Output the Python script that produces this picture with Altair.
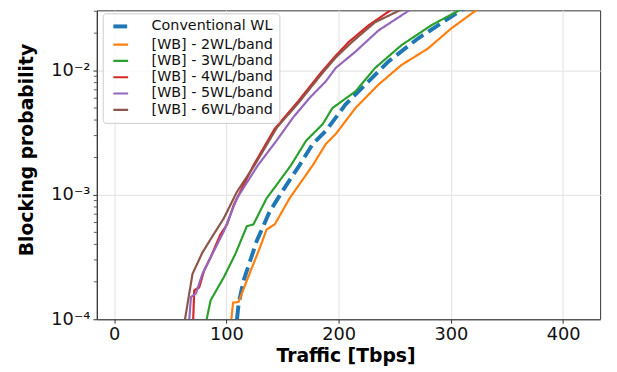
import altair as alt
import pandas as pd

series_names = ["Conventional WL", "[WB] - 2WL/band", "[WB] - 3WL/band",
                "[WB] - 4WL/band", "[WB] - 5WL/band", "[WB] - 6WL/band"]
colors = ["#1f77b4", "#ff7f0e", "#2ca02c", "#d62728", "#9467bd", "#8c564b"]
dashes = [[14, 6], [1, 0], [1, 0], [1, 0], [1, 0], [1, 0]]
widths = [4, 2.2, 2.2, 2.2, 2.2, 2.2]

conv_x = [109.4, 110.9, 115.3, 127.0, 138.7, 153.4, 165.1, 176.9, 188.6, 197.4, 206.2, 223.7, 244.2, 270.6, 310.2, 316.0]
conv_y = [1.0e-4, 1.34e-4, 2.05e-4, 4.26e-4, 7.4e-4, 1.2e-3, 1.73e-3, 2.57e-3, 3.28e-3, 4.18e-3, 5.35e-3, 7.7e-3, 1.18e-2, 1.81e-2, 3.1e-2, 3.4e-2]

wl2_x = [104.4, 105.9, 110.9, 118.2, 129.9, 135.8, 143.1, 156.3, 176.9, 188.6, 197.4, 215.0, 235.4, 256.0, 279.4, 300.0, 323.4, 330.0]
wl2_y = [1.0e-4, 1.36e-4, 1.38e-4, 2.05e-4, 3.78e-4, 5.27e-4, 5.8e-4, 9.4e-4, 1.73e-3, 2.57e-3, 3.09e-3, 5.0e-3, 7.7e-3, 1.11e-2, 1.5e-2, 2.17e-2, 3.1e-2, 3.4e-2]

wl3_x = [82.4, 85.9, 97.7, 107.9, 118.2, 124.1, 135.8, 144.6, 157.5, 171.0, 185.7, 194.5, 215.0, 232.5, 256.0, 282.4, 308.8, 315.0]
wl3_y = [1.0e-4, 1.42e-4, 2.18e-4, 3.34e-4, 5.6e-4, 5.8e-4, 9.4e-4, 1.2e-3, 1.73e-3, 2.73e-3, 3.7e-3, 5.0e-3, 6.8e-3, 1.05e-2, 1.6e-2, 2.31e-2, 3.1e-2, 3.4e-2]

wl4_x = [70.4, 71.3, 75.7, 80.1, 85.9, 94.7, 100.6, 106.5, 112.3, 124.1, 143.0, 164.0, 185.0, 196.5, 209.0, 226.7, 247.2, 253.0]
wl4_y = [1.0e-4, 1.71e-4, 1.8e-4, 2.46e-4, 3.15e-4, 4.82e-4, 5.8e-4, 8.3e-4, 1.06e-3, 1.73e-3, 3.4e-3, 5.68e-3, 9.8e-3, 1.29e-2, 1.7e-2, 2.31e-2, 3.1e-2, 3.4e-2]

wl5_x = [66.9, 68.4, 72.8, 78.6, 84.5, 91.8, 97.7, 103.5, 109.4, 128.0, 144.6, 159.3, 173.9, 188.6, 197.4, 215.0, 235.4, 264.1, 270.0]
wl5_y = [1.0e-4, 1.51e-4, 1.61e-4, 2.32e-4, 2.96e-4, 4.0e-4, 5.1e-4, 6.9e-4, 9.4e-4, 1.73e-3, 2.73e-3, 4.18e-3, 6.0e-3, 8.2e-3, 1.05e-2, 1.42e-2, 2.1e-2, 3.1e-2, 3.4e-2]

wl6_x = [63.1, 65.4, 69.8, 78.6, 85.9, 97.7, 109.4, 121.1, 125.0, 145.0, 165.5, 186.5, 198.0, 212.0, 232.5, 256.0, 262.0]
wl6_y = [1.0e-4, 1.34e-4, 2.32e-4, 3.44e-4, 4.4e-4, 6.5e-4, 1.06e-3, 1.53e-3, 1.73e-3, 3.48e-3, 5.68e-3, 9.8e-3, 1.29e-2, 1.7e-2, 2.45e-2, 3.1e-2, 3.4e-2]

x_ticks = [0, 100, 200, 300, 400]
y_major = [1e-4, 1e-3, 1e-2]
y_minor = [2e-4, 3e-4, 4e-4, 5e-4, 6e-4, 7e-4, 8e-4, 9e-4,
           2e-3, 3e-3, 4e-3, 5e-3, 6e-3, 7e-3, 8e-3, 9e-3, 2e-2, 3e-2]

all_x = [conv_x, wl2_x, wl3_x, wl4_x, wl5_x, wl6_x]
all_y = [conv_y, wl2_y, wl3_y, wl4_y, wl5_y, wl6_y]
rows = []
for name, xs, ys in zip(series_names, all_x, all_y):
    for i, (xv, yv) in enumerate(zip(xs, ys)):
        rows.append({"series": name, "traffic": xv, "bp": yv, "idx": i})
df = pd.DataFrame(rows)
minor_df = pd.DataFrame({"bp": y_minor})

xscale = alt.Scale(domain=[-15.5, 433], nice=False, zero=False)
yscale = alt.Scale(type="log", domain=[1e-4, 0.0305], nice=False)

leg = alt.Legend(title=None, orient="none", legendX=6, legendY=3,
                 symbolType="M-0.5,0H2.5", symbolSize=100, labelFont="DejaVu Sans",
                 labelFontSize=14.5, labelColor="#111", fillColor="rgba(255,255,255,0.85)",
                 strokeColor="#cccccc", cornerRadius=3, padding=6, rowPadding=1.5,
                 labelOffset=29)

lines = alt.Chart(df).mark_line(clip=True).encode(
    x=alt.X("traffic:Q", scale=xscale,
            axis=alt.Axis(values=x_ticks, title="Traffic [Tbps]", titleX=252,
                          titleY=43, titleBaseline="alphabetic")),
    y=alt.Y("bp:Q", scale=yscale,
            axis=alt.Axis(values=y_major, title="Blocking probability",
                          labelExpr="datum.value < 0.0005 ? '10⁻⁴' : (datum.value < 0.005 ? '10⁻³' : '10⁻²')",
                          titleX=-71, titleY=141, titleBaseline="middle", titleAlign="center")),
    color=alt.Color("series:N", scale=alt.Scale(domain=series_names, range=colors), legend=leg),
    strokeDash=alt.StrokeDash("series:N", scale=alt.Scale(domain=series_names, range=dashes), legend=leg),
    strokeWidth=alt.StrokeWidth("series:N", scale=alt.Scale(type="ordinal", domain=series_names, range=widths), legend=leg),
    order="idx:Q",
)

minor = alt.Chart(minor_df).mark_rule(color="#333", strokeWidth=0.8).encode(
    y=alt.Y("bp:Q", scale=yscale),
    x=alt.value(-3), x2=alt.value(0),
)

chart = alt.layer(lines, minor).properties(
    width=510, height=313,
    autosize=alt.AutoSizeParams(type="none"),
    padding={"left": 90, "top": 0, "right": 9, "bottom": 47},
).configure_view(
    stroke="#333", strokeWidth=1
).configure_axis(
    grid=True, gridColor="#e6e6e6", gridWidth=1.2,
    domainColor="#333", tickColor="#333", tickSize=4,
    labelFont="DejaVu Sans", labelFontSize=18, labelColor="#111", labelPadding=3,
    titleFont="DejaVu Sans", titleFontSize=19, titleFontWeight="bold", titleColor="#000",
)

chart.save("out.html", embed_options={"renderer": "svg", "actions": False})
